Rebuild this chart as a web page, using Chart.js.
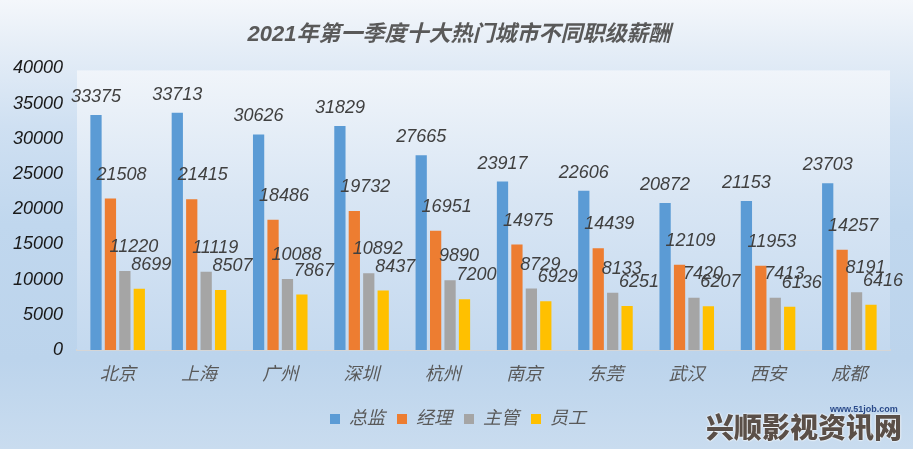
<!DOCTYPE html>
<html>
<head>
<meta charset="utf-8">
<script src="https://cdn.jsdelivr.net/npm/chart.js@4.4.1/dist/chart.umd.min.js"></script>
<style>
  html, body { margin: 0; padding: 0; }
  #wrap {
    position: relative; width: 913px; height: 449px; overflow: hidden;
    background: linear-gradient(180deg, #f4f7fb 0%, #e6eef7 10%, #cfe0f2 28%, #c0d7ee 50%, #bcd4ec 80%, #c9dcef 100%);
  }
  canvas { position: absolute; left: 0; top: 0; }
  #wm {
    position: absolute; left: 706px; top: 408px;
    font-family: "Noto Sans CJK SC", sans-serif; font-weight: 900; font-size: 28px;
    color: #5a4f48; letter-spacing: 0px; line-height: 36px;
    text-shadow: 0 0 2px #fff, 0 0 2px #fff;
  }
  #wm2 {
    position: absolute; left: 830px; top: 404px;
    font-family: "Liberation Sans", sans-serif; font-weight: bold; font-size: 9px; color: #2a4a8a;
  }
</style>
</head>
<body>
<div id="wrap">
  <canvas id="c" width="913" height="449"></canvas>
  <div id="wm">兴顺影视资讯网</div>
  <div id="wm2">www.51job.com</div>
</div>
<script>
const categories = ['北京', '上海', '广州', '深圳', '杭州', '南京', '东莞', '武汉', '西安', '成都'];
const seriesNames = ['总监', '经理', '主管', '员工'];
const director = [33375, 33713, 30626, 31829, 27665, 23917, 22606, 20872, 21153, 23703];
const manager = [21508, 21415, 18486, 19732, 16951, 14975, 14439, 12109, 11953, 14257];
const supervisor = [11220, 11119, 10088, 10892, 9890, 8729, 8133, 7420, 7413, 8191];
const staff = [8699, 8507, 7867, 8437, 7200, 6929, 6251, 6207, 6136, 6416];
const yTicks = [0, 5000, 10000, 15000, 20000, 25000, 30000, 35000, 40000];

const colors = ['#5b9bd5', '#ed7d31', '#a5a5a5', '#ffc000'];
const labelDx = [0, 11, 9, 12];
const labelDy = [-18, -24, -24, -24];
const FONT = '"Liberation Sans", "Noto Sans CJK SC", sans-serif';

const plotBg = {
  id: 'plotBg',
  beforeDatasetsDraw(chart) {
    const { ctx, chartArea: a } = chart;
    const g = ctx.createLinearGradient(0, a.top, 0, a.bottom);
    g.addColorStop(0, '#f1f5fa');
    g.addColorStop(0.45, '#d9e6f4');
    g.addColorStop(1, '#c4d9ef');
    ctx.save();
    ctx.fillStyle = g;
    ctx.fillRect(a.left, a.top + 2, a.right - a.left, a.bottom - a.top - 2);
    ctx.restore();
  }
};

const blockShift = {
  id: 'blockShift',
  afterLayout(chart) {
    if (chart.legend) { chart.legend.left += 13; chart.legend.right += 13; }
    if (chart.titleBlock) { chart.titleBlock.left += 14; chart.titleBlock.right += 14; }
  }
};

const valueLabels = {
  id: 'valueLabels',
  afterDatasetsDraw(chart) {
    const { ctx } = chart;
    ctx.save();
    ctx.font = 'italic 18px ' + FONT;
    ctx.fillStyle = '#404040';
    ctx.textAlign = 'center';
    ctx.textBaseline = 'middle';
    chart.data.datasets.forEach((ds, i) => {
      const meta = chart.getDatasetMeta(i);
      meta.data.forEach((bar, j) => {
        ctx.fillText(String(ds.data[j]), bar.x + labelDx[i], bar.y + labelDy[i]);
      });
    });
    ctx.restore();
  }
};

const dataSets = [director, manager, supervisor, staff];

new Chart(document.getElementById('c'), {
  type: 'bar',
  data: {
    labels: categories,
    datasets: seriesNames.map((n, i) => ({
      label: n,
      data: dataSets[i],
      backgroundColor: colors[i],
      borderWidth: 0,
      categoryPercentage: 0.71,
      barPercentage: 0.78
    }))
  },
  options: {
    responsive: false,
    animation: false,
    devicePixelRatio: 1,
    layout: { padding: { left: 0, right: 23, top: 0, bottom: 11 } },
    plugins: {
      title: {
        display: true,
        text: '2021年第一季度十大热门城市不同职级薪酬',
        color: '#595959',
        font: { family: FONT, size: 22, weight: 'bold', style: 'italic' },
        padding: { top: 22, bottom: 20 }
      },
      legend: {
        position: 'bottom',
        labels: {
          boxWidth: 10, boxHeight: 10, padding: 12,
          color: '#595959',
          font: { family: FONT, size: 18, style: 'italic' }
        }
      },
      tooltip: { enabled: false }
    },
    scales: {
      x: {
        grid: { display: false, drawTicks: false },
        border: { display: true, color: '#d6d6d6', width: 2 },
        ticks: { color: '#595959', padding: 14, font: { family: FONT, size: 18, style: 'italic' } },
        afterFit(s) { s.height = 48; }
      },
      y: {
        min: 0, max: 40000,
        afterBuildTicks(s) { s.ticks = yTicks.map(v => ({ value: v })); },
        grid: { display: false, drawTicks: false },
        border: { display: false },
        ticks: {
          color: '#1a1a1a', padding: 14,
          font: { family: FONT, size: 18, style: 'italic' },
          callback: (v) => String(v)
        },
        afterFit(s) { s.width = 77; }
      }
    }
  },
  plugins: [plotBg, blockShift, valueLabels]
});
</script>
</body>
</html>
